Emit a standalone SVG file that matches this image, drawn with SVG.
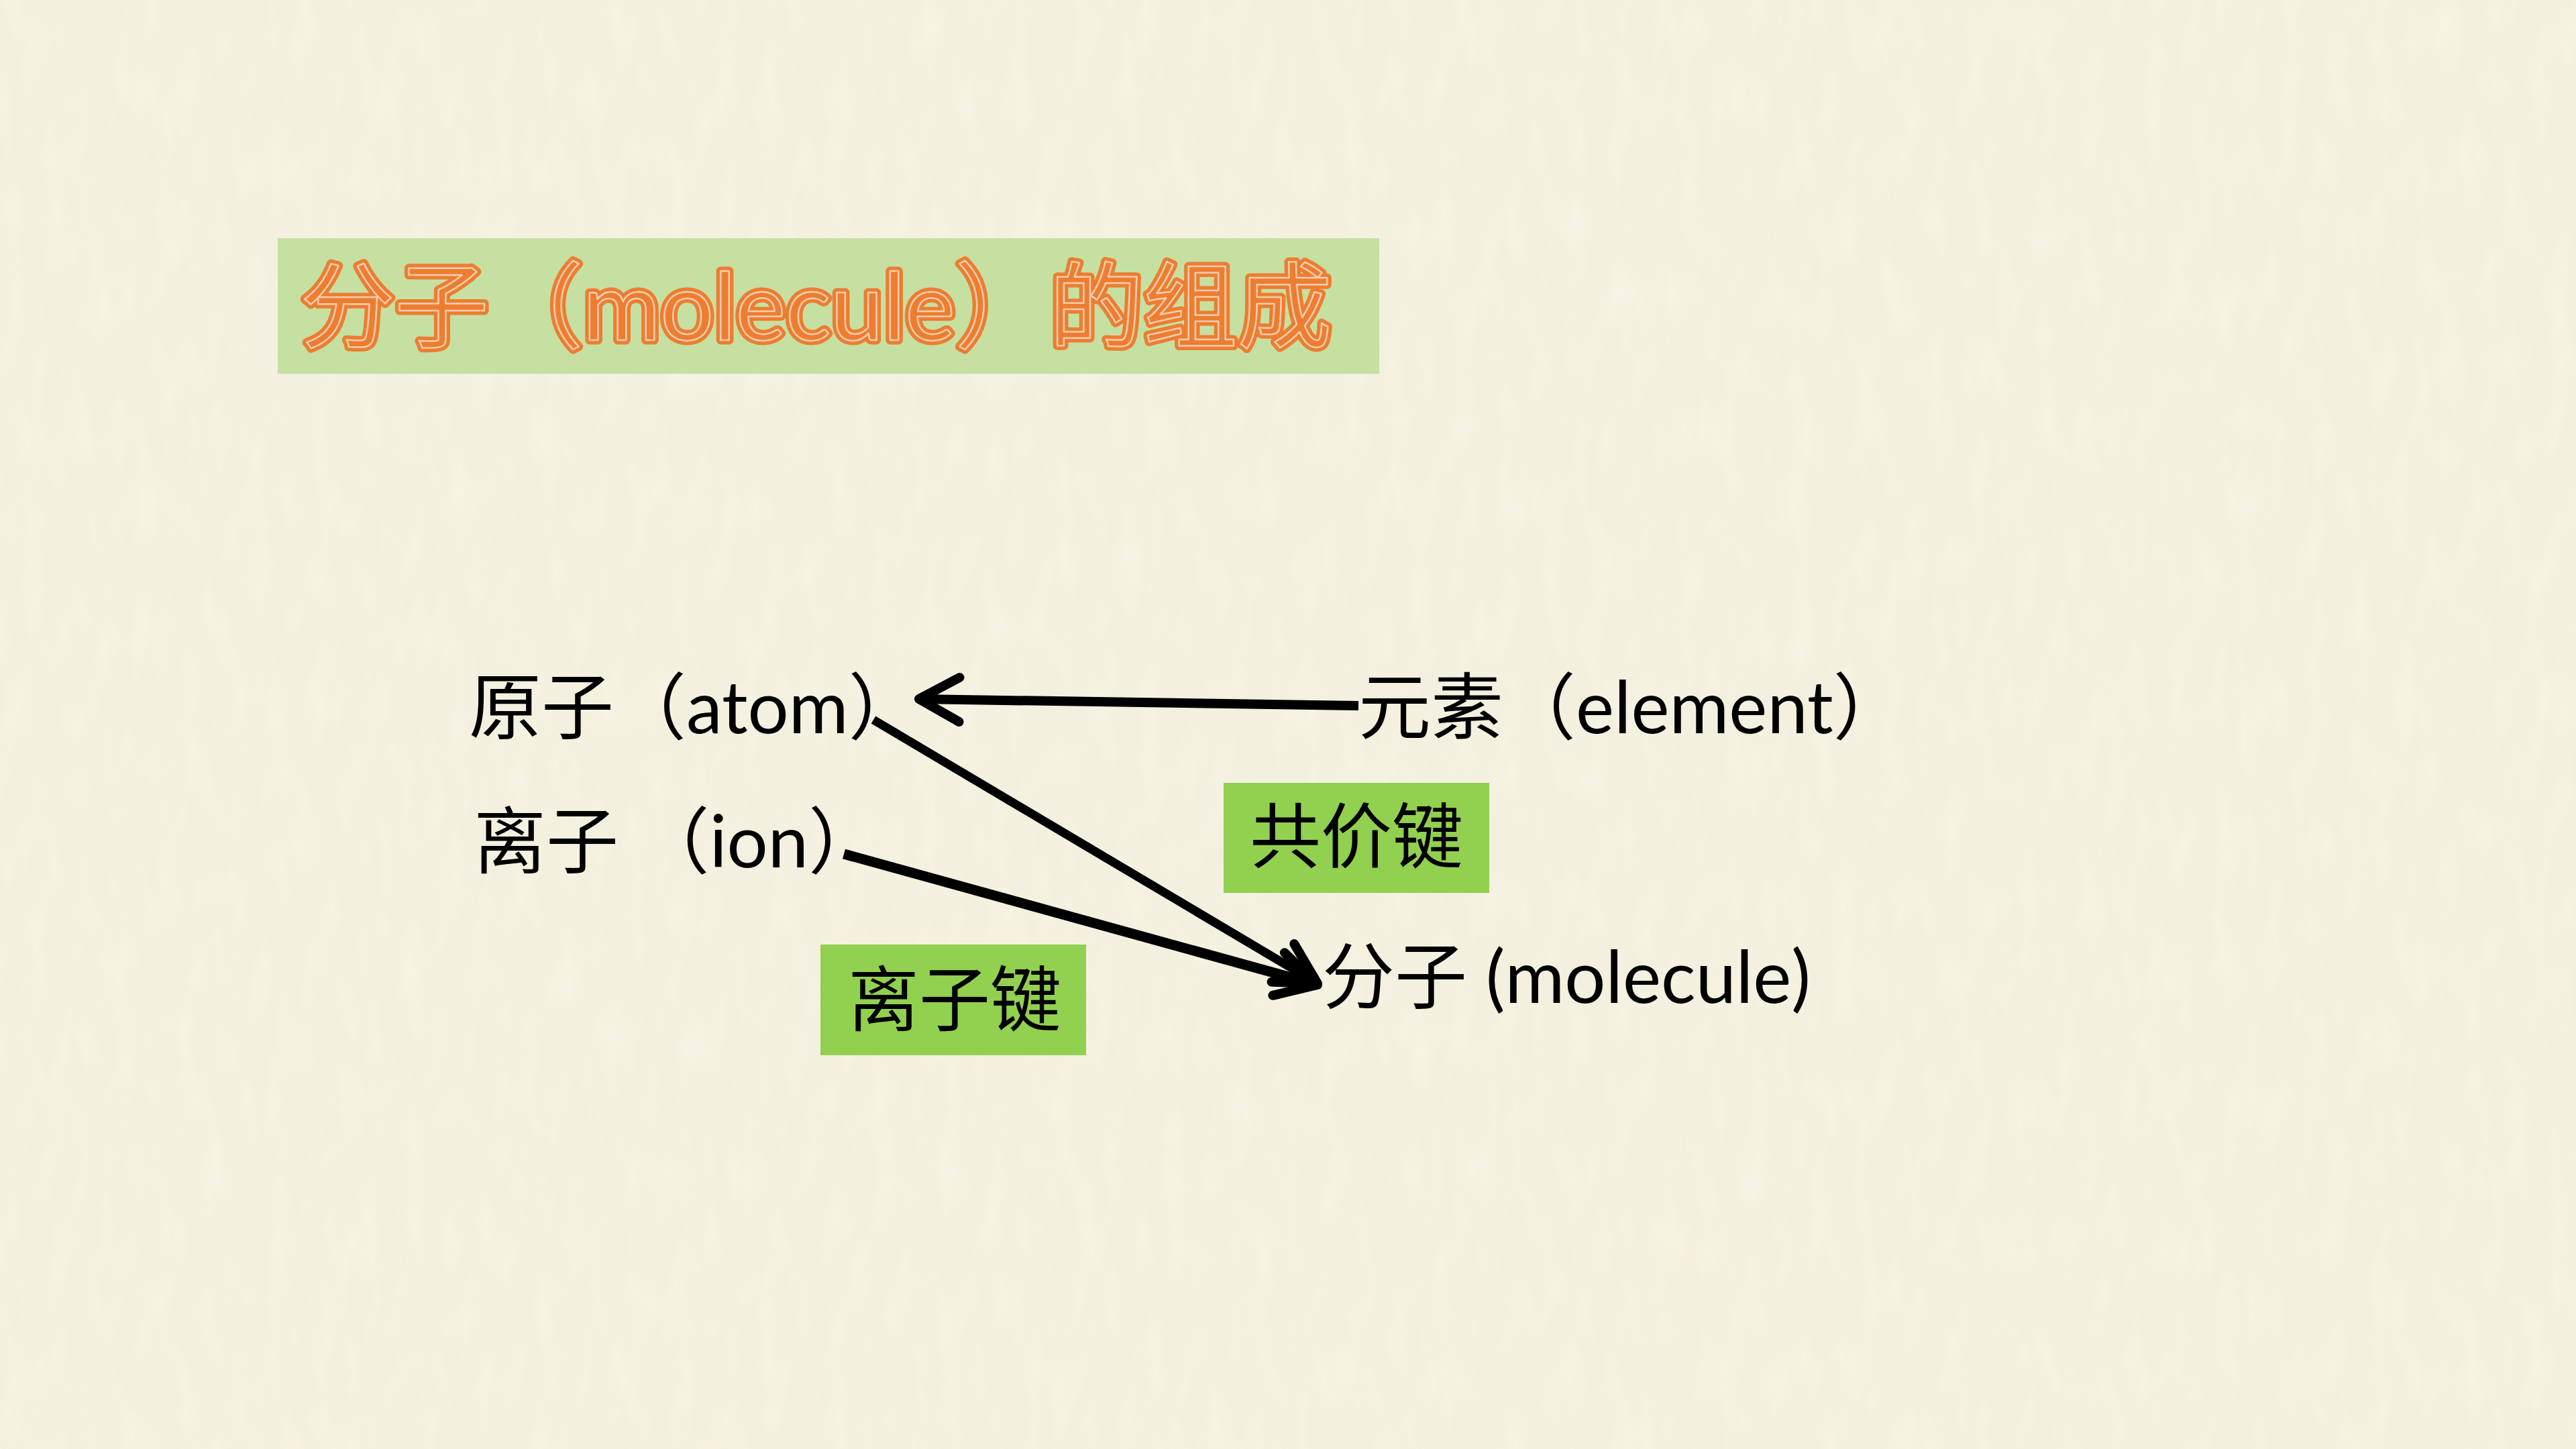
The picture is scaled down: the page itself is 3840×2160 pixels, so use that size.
<svg xmlns="http://www.w3.org/2000/svg" xmlns:xlink="http://www.w3.org/1999/xlink" width="3840" height="2160" viewBox="0 0 3840 2160">
  <style>
    .lbl { font-family: Lato, "Noto Sans CJK SC", sans-serif; font-size: 108px; fill: #000; }
    .tag { font-family: "Noto Sans CJK SC", sans-serif; font-size: 106px; fill: #000; text-anchor: middle; }
    .tagbox { fill: #92D050; }
    .conn { stroke: #000; fill: none; stroke-linecap: butt; }
  </style>
  <defs>
    <marker id="arrow" markerUnits="userSpaceOnUse" orient="auto" refX="0" refY="0" overflow="visible" markerWidth="10" markerHeight="10">
      <path d="M -60 -33 L 0 0 L -60 33" fill="none" stroke="#000" stroke-width="14" stroke-linecap="round" stroke-linejoin="round"/>
    </marker>
    <filter id="paper" x="0" y="0" width="100%" height="100%">
      <feTurbulence type="fractalNoise" baseFrequency="0.03 0.01" numOctaves="3" seed="7" result="n"/>
      <feColorMatrix in="n" type="matrix" values="0 0 0 0 1  0 0 0 0 1  0 0 0 0 0.96  0 0 0 1.4 -0.55"/>
    </filter>
    <text id="titleText" x="448" y="507" font-family="Lato, 'Noto Sans CJK SC', sans-serif" font-size="139" textLength="1537" lengthAdjust="spacingAndGlyphs">分子（molecule）的组成</text>
  </defs>

  <rect x="0" y="0" width="3840" height="2160" fill="#F4F0DF"/>
  <rect x="0" y="0" width="3840" height="2160" filter="url(#paper)" opacity="0.3"/>

  <g id="title">
    <rect x="414" y="355" width="1642" height="202" fill="#C6E0A2"/>
    <use href="#titleText" fill="#ED7D31" stroke="#ED7D31" stroke-width="13" stroke-linejoin="round"/>
    <use href="#titleText" fill="none" stroke="#F9CDAE" stroke-width="2.5" stroke-linejoin="round"/>
  </g>

  <g id="connectors">
    <line class="conn" x1="2025" y1="1052" x2="1370" y2="1042" stroke-width="14" marker-end="url(#arrow)"/>
    <line class="conn" x1="1302" y1="1073" x2="1964" y2="1466" stroke-width="13" marker-end="url(#arrow)"/>
    <line class="conn" x1="1258" y1="1273" x2="1964" y2="1468" stroke-width="15" marker-end="url(#arrow)"/>
  </g>

  <g id="node-atom">
    <text class="lbl" x="699" y="1093">原子（atom）</text>
  </g>
  <g id="node-element">
    <text class="lbl" x="2025" y="1093">元素（element）</text>
  </g>
  <g id="node-ion">
    <text class="lbl" x="706" y="1293">离子 （ion）</text>
  </g>
  <g id="node-molecule">
    <text class="lbl" x="1971" y="1495">分子 (molecule)</text>
  </g>
  <g id="tag-covalent">
    <rect class="tagbox" x="1824" y="1167" width="396" height="164"/>
    <text class="tag" x="2022" y="1285">共价键</text>
  </g>
  <g id="tag-ionic">
    <rect class="tagbox" x="1223" y="1408" width="396" height="165"/>
    <text class="tag" x="1423" y="1528">离子键</text>
  </g>
</svg>
